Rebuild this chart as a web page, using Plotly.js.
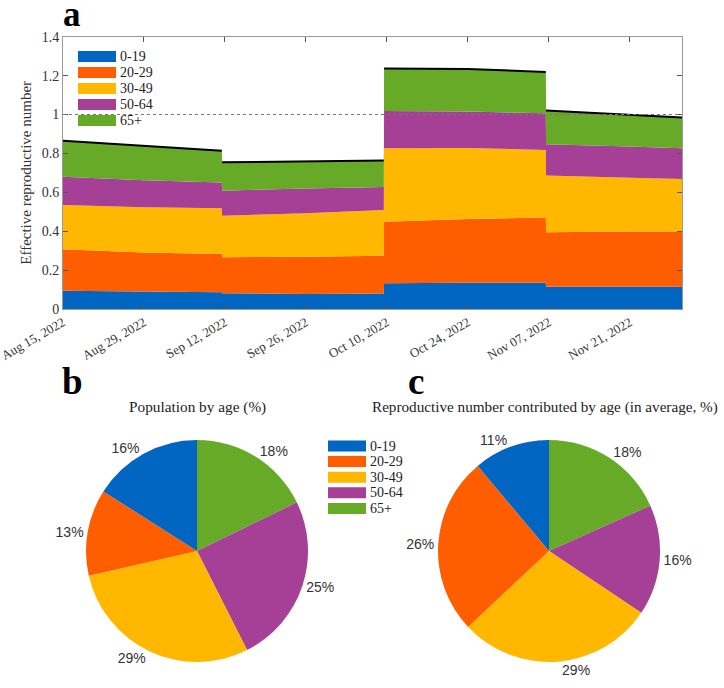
<!DOCTYPE html>
<html>
<head>
<meta charset="utf-8">
<script src="https://cdn.plot.ly/plotly-3.0.1.min.js"></script>
<style>
    html, body { margin: 0; padding: 0; background: #fff; }
    #chart { width: 724px; height: 688px; }
</style>
</head>
<body>
<div id="chart"></div>
<script>
// age groups, shared by all three panels
const ageGroups = ["0-19", "20-29", "30-49", "50-64", "65+"];
const ageColors = ["#0066c2", "#ff5e00", "#ffb700", "#a54096", "#66aa28"];

// panel a: Rt contributed by each age group (not cumulative)
// a period ends one hour before the next starts, so the steps come out vertical
const rtDates = [
    "2022-08-15", "2022-08-29", "2022-09-11 11:00",
    "2022-09-11 12:00", "2022-09-26", "2022-10-09 11:00",
    "2022-10-09 12:00", "2022-10-24", "2022-11-06 11:00",
    "2022-11-06 12:00", "2022-11-21", "2022-11-30"
];
const rtPeriod = [0, 0, 0, 1, 1, 1, 2, 2, 2, 3, 3, 3];
const rt0to19  = [0.094, 0.089, 0.086, 0.081, 0.077, 0.080, 0.132, 0.135, 0.135, 0.115, 0.115, 0.115];
const rt20to29 = [0.213, 0.202, 0.197, 0.185, 0.192, 0.194, 0.317, 0.328, 0.335, 0.279, 0.283, 0.284];
const rt30to49 = [0.228, 0.232, 0.235, 0.214, 0.223, 0.235, 0.377, 0.365, 0.347, 0.292, 0.277, 0.269];
const rt50to64 = [0.145, 0.139, 0.133, 0.128, 0.128, 0.118, 0.192, 0.187, 0.189, 0.161, 0.160, 0.158];
const rt65plus = [0.185, 0.176, 0.163, 0.146, 0.137, 0.136, 0.219, 0.219, 0.213, 0.174, 0.162, 0.159];

const rtTicks = ["2022-08-15", "2022-08-29", "2022-09-12", "2022-09-26",
                 "2022-10-10", "2022-10-24", "2022-11-07", "2022-11-21"];
const rtRange = ["2022-08-15", "2022-11-30"];

// panels b and c: shares in %
const populationShare = [16.0, 12.6, 28.9, 24.8, 17.8];
const rtShare = [11.1, 25.9, 28.6, 16.1, 18.3];

const W = 724, H = 688;
// pixel position on the page -> paper coordinates
const px = x => x / W;
const py = y => 1 - y / H;

const serif = "Liberation Serif, Times New Roman, serif";
const sans = "Liberation Sans, Arial, sans-serif";

function areaTraces() {
    const series = [rt0to19, rt20to29, rt30to49, rt50to64, rt65plus];
    return series.map((ys, i) => ({
        type: "scatter",
        mode: "lines",
        name: ageGroups[i],
        x: rtDates,
        y: ys,
        stackgroup: "rt",
        line: { width: 0 },
        fillcolor: ageColors[i],
        showlegend: false,
        hoverinfo: "skip"
    }));
}

// total Rt as a black line, broken between the periods
function totalTrace() {
    const x = [], y = [];
    rtDates.forEach((d, i) => {
        if (i > 0 && rtPeriod[i] !== rtPeriod[i - 1]) {
            x.push(d);
            y.push(null);
        }
        x.push(d);
        y.push(rt0to19[i] + rt20to29[i] + rt30to49[i] + rt50to64[i] + rt65plus[i]);
    });
    return {
        type: "scatter", mode: "lines", x: x, y: y,
        line: { color: "#000", width: 2 },
        connectgaps: false, showlegend: false, hoverinfo: "skip"
    };
}

// the original goes counterclockwise from 12 o'clock starting with 0-19,
// which is clockwise from 12 o'clock with the order reversed
function pieTrace(values, x0, x1) {
    return {
        type: "pie",
        values: values.slice().reverse(),
        labels: ageGroups.slice().reverse(),
        marker: { colors: ageColors.slice().reverse(), line: { width: 0 } },
        sort: false,
        direction: "clockwise",
        rotation: 0,
        textposition: "outside",
        texttemplate: "%{percent:.0%}",
        textfont: { family: sans, size: 14, color: "#333" },
        domain: { x: [px(x0), px(x1)], y: [py(662), py(440)] },
        showlegend: false,
        hoverinfo: "skip"
    };
}

// hand-drawn legend: wide colour swatches like the original
function legend(left, top, rowH, shapes, annotations) {
    ageGroups.forEach((g, i) => {
        const cy = top + i * rowH;
        shapes.push({
            type: "rect", xref: "paper", yref: "paper",
            x0: px(left), x1: px(left + 38), y0: py(cy + 5.5), y1: py(cy - 5.5),
            fillcolor: ageColors[i], line: { width: 0 }
        });
        annotations.push({
            xref: "paper", yref: "paper", x: px(left + 40), y: py(cy),
            xanchor: "left", yanchor: "middle", showarrow: false,
            text: g, font: { family: serif, size: 14, color: "#222" }
        });
    });
}

const shapes = [{
    type: "line", xref: "x domain", yref: "y", x0: 0, x1: 1, y0: 1, y1: 1,
    line: { color: "#777", width: 1, dash: "dot" }, layer: "above"
}];
const annotations = [
    { text: "<b>a</b>", x: px(72), y: py(14), font: { family: serif, size: 35, color: "#000" } },
    { text: "<b>b</b>", x: px(72), y: py(381), font: { family: serif, size: 37, color: "#000" } },
    { text: "<b>c</b>", x: px(416), y: py(381), font: { family: serif, size: 37, color: "#000" } },
    { text: "Population by age (%)", x: px(197), y: py(407), font: { family: serif, size: 15.3, color: "#222" } },
    { text: "Reproductive number contributed by age (in average, %)", x: px(545), y: py(407),
      font: { family: serif, size: 15.2, color: "#222" } }
].map(a => Object.assign({ xref: "paper", yref: "paper", showarrow: false,
                           xanchor: "center", yanchor: "middle" }, a));

legend(78, 56.5, 16, shapes, annotations);
legend(328, 446, 15.6, shapes, annotations);

const layout = {
    width: W,
    height: H,
    margin: { l: 0, r: 0, t: 0, b: 0 },
    paper_bgcolor: "#fff",
    plot_bgcolor: "#fff",
    showlegend: false,
    font: { family: serif, color: "#333" },
    xaxis: {
        type: "date",
        domain: [px(63), px(682)],
        range: rtRange,
        tickvals: rtTicks,
        tickformat: "%b %d, %Y",
        tickangle: -30,
        ticklabeloverflow: "allow",
        ticks: "inside",
        ticklen: 5,
        tickcolor: "#555",
        showline: true,
        linecolor: "#999",
        mirror: "ticks",
        showgrid: false,
        zeroline: false,
        tickfont: { family: serif, size: 13, color: "#333" }
    },
    yaxis: {
        domain: [py(309), py(36.7)],
        range: [0, 1.4],
        dtick: 0.2,
        ticks: "inside",
        ticklen: 5,
        tickcolor: "#555",
        showline: true,
        linecolor: "#999",
        mirror: "ticks",
        showgrid: false,
        zeroline: false,
        tickfont: { family: serif, size: 14, color: "#333" },
        title: {
            text: "Effective reproductive number",
            standoff: 6,
            font: { family: serif, size: 15, color: "#333" }
        }
    },
    shapes: shapes,
    annotations: annotations
};

const data = areaTraces().concat([
    totalTrace(),
    pieTrace(populationShare, 86, 308),
    pieTrace(rtShare, 438, 660)
]);

Plotly.newPlot("chart", data, layout, { displayModeBar: false, staticPlot: true });
</script>
</body>
</html>
